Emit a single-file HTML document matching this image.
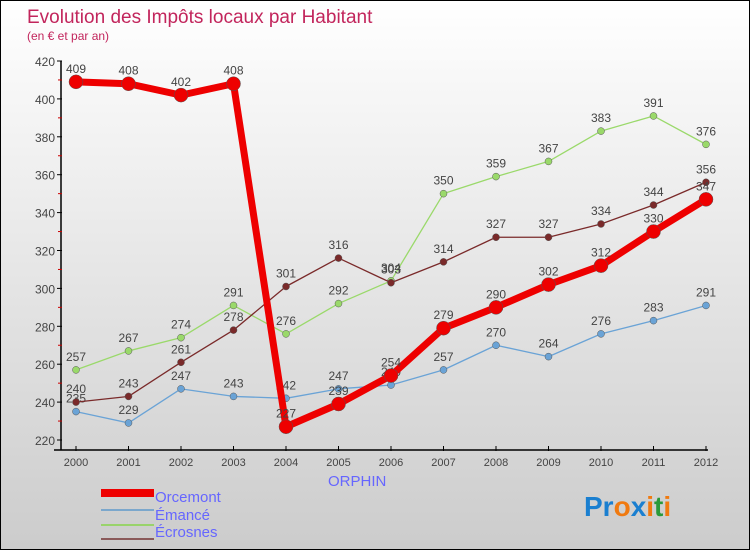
<!DOCTYPE html>
<html><head><meta charset="utf-8"><style>
body{margin:0}
#c{width:750px;height:550px;position:relative;box-sizing:border-box;border:1px solid #000;background:linear-gradient(#fff,#ccc);font-family:"Liberation Sans",sans-serif;overflow:hidden}
</style></head><body>
<div id="c">
<svg width="748" height="548" style="position:absolute;left:0;top:0" id="s">
<text x="26" y="22" font-size="19" fill="#c2255c">Evolution des Impôts locaux par Habitant</text>
<text x="26" y="39" font-size="12" fill="#c2255c">(en € et par an)</text>
<g id="g"></g>
<text x="327" y="485" font-size="15" fill="#6666ff">ORPHIN</text>
<text x="154" y="501" font-size="15" fill="#6666ff">Orcemont</text>
<text x="154" y="519" font-size="15" fill="#6666ff">Émancé</text>
<text x="154" y="536" font-size="15" fill="#6666ff">Écrosnes</text>
<rect x="100" y="488" width="53" height="8" fill="#e00"/>
<rect x="100" y="508" width="53" height="2" fill="#7ba7cc"/>
<rect x="100" y="523" width="53" height="2" fill="#99d36b"/>
<rect x="100" y="537" width="53" height="2" fill="#8a5a5a"/>
<text x="583" y="515" font-size="28" font-weight="bold"><tspan fill="#1a7fd0">Pr</tspan><tspan fill="#f07a10">o</tspan><tspan fill="#1a7fd0">x</tspan><tspan fill="#f07a10">i</tspan><tspan fill="#2a9a3a">t</tspan><tspan fill="#f07a10">i</tspan></text>
</svg>
</div>
<script>
const years=[2000,2001,2002,2003,2004,2005,2006,2007,2008,2009,2010,2011,2012];
const orphin=[409,408,402,408,227,239,254,279,290,302,312,330,347];
const orcemont=[235,229,247,243,242,247,249,257,270,264,276,283,291];
const emance=[257,267,274,291,276,292,304,350,359,367,383,391,376];
const ecrosnes=[240,243,261,278,301,316,303,314,327,327,334,344,356];
const yTicks=[220,240,260,280,300,320,340,360,380,400,420];
const NS="http://www.w3.org/2000/svg";
const g=document.getElementById('g');
const x=i=>75+i*(705-75)/(years.length-1);
const y=v=>439-(v-220)*(439-60)/200;
function mk(t,a){const e=document.createElementNS(NS,t);for(const k in a)e.setAttribute(k,a[k]);g.appendChild(e);return e;}
let e=mk('line',{x1:60,y1:60,x2:60,y2:449,stroke:'#000','stroke-width':1.5});


e=mk('line',{x1:53,y1:449,x2:707,y2:449,stroke:'#000','stroke-width':1.5});


yTicks.forEach((v,i)=>{
 const t=mk('line',{x1:56,x2:61,y1:y(v),y2:y(v),stroke:'#000'});
 
 
 if(i<yTicks.length-1){const m=mk('line',{x1:57,x2:61,y1:y(v+10),y2:y(v+10),stroke:'#c00'});
 
 }
 const l=mk('text',{x:54,y:y(v)+5,'text-anchor':'end','font-size':12,fill:'#444'});l.textContent=v;
 
 
});
years.forEach((yr,i)=>{
 const t=mk('line',{x1:x(i),x2:x(i),y1:445,y2:450,stroke:'#000'});
 
 
 const l=mk('text',{x:x(i),y:465,'text-anchor':'middle','font-size':11,fill:'#444'});l.textContent=yr;
 
 
});
function series(d,col,w,r,name){
 const p=mk('polyline',{points:d.map((v,i)=>x(i)+','+y(v)).join(' '),fill:'none',stroke:col,'stroke-width':w,'stroke-linejoin':'round'});
 
 
 d.forEach((v,i)=>{
  const c=mk('circle',{cx:x(i),cy:y(v),r:r,fill:col,stroke:'#555','stroke-width':0.5});
  
  
  const t=mk('text',{x:x(i),y:y(v)-9,'text-anchor':'middle','font-size':12,fill:'#444'});t.textContent=v;
  
  
 });
}
series(orcemont,'#6aa3d6',1.3,3.5,'orcemont');
series(emance,'#9ad96a',1.3,3.5,'emance');
series(ecrosnes,'#7a2a2a',1.3,3.5,'ecrosnes');
series(orphin,'#ee0000',7,7,'orphin');
</script>
</body></html>
